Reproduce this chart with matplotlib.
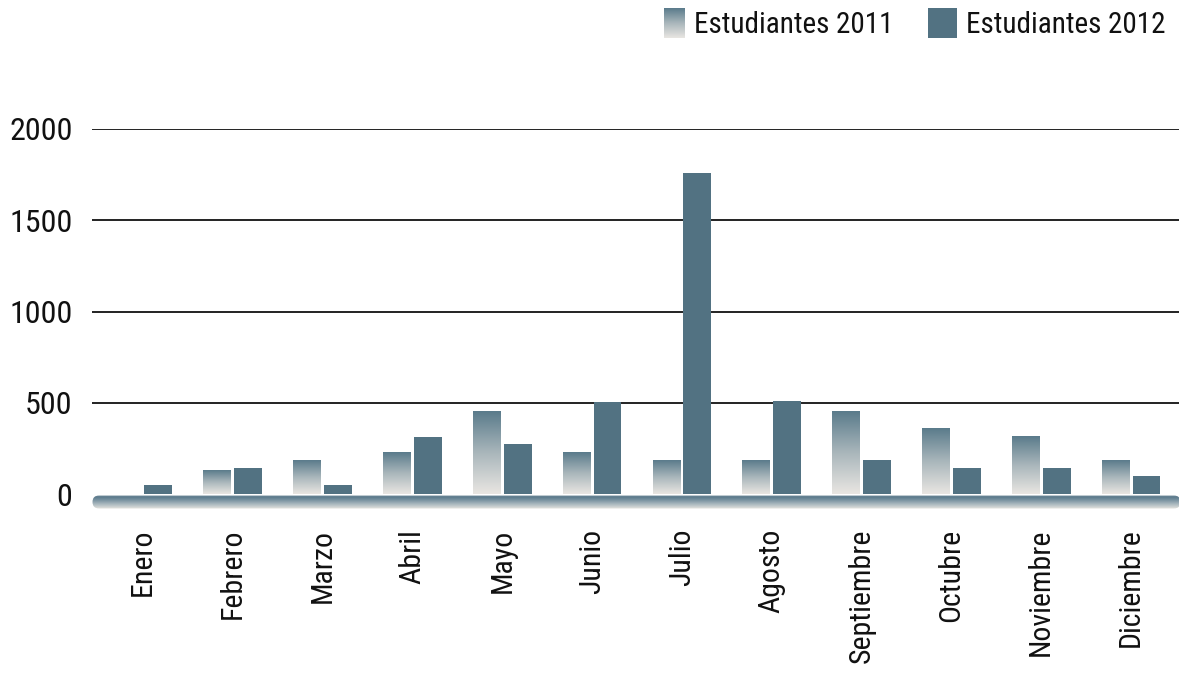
import numpy as np
import matplotlib
matplotlib.use("Agg")
import matplotlib.pyplot as plt
from matplotlib.colors import LinearSegmentedColormap
from matplotlib.patches import FancyBboxPatch, Rectangle

months = ["Enero", "Febrero", "Marzo", "Abril", "Mayo", "Junio", "Julio",
          "Agosto", "Septiembre", "Octubre", "Noviembre", "Diciembre"]
est_2011 = [0, 130, 185, 225, 450, 230, 185, 185, 450, 360, 315, 185]
est_2012 = [50, 140, 50, 315, 275, 505, 1760, 510, 185, 140, 140, 100]
yticks = [0, 500, 1000, 1500, 2000]
series_names = ["Estudiantes 2011", "Estudiantes 2012"]

FONT = ["Roboto Condensed", "Archivo Narrow", "DejaVu Sans"]
plt.rcParams["font.family"] = FONT

DARK = "#527282"
grad_cmap = LinearSegmentedColormap.from_list("g", ["#e9e6e2", "#a9b6bb", "#5a7b8b"])
base_cmap = LinearSegmentedColormap.from_list(
    "bb", [(0.0, "#e8e6e1"), (0.3, "#b3bfc4"), (0.65, "#7892a0"), (0.88, "#58788a"), (1.0, "#93a8b2")])
grad = np.linspace(0, 1, 256).reshape(-1, 1)

W, H = 1179, 675
fig = plt.figure(figsize=(W / 100, H / 100), dpi=100)

ax_left, ax_right = 92, 1179
y0_px, y2000_px = 494, 129
ax = fig.add_axes([ax_left / W, (H - y0_px) / H, (ax_right - ax_left) / W, (y0_px - y2000_px) / H])
n = len(months)
x = np.arange(n)
step_px = 89.8
bw = 0.31
off = 0.172
xlim = (-0.5 - 6 / step_px, n - 0.5 + 3 / step_px)

for s in ax.spines.values():
    s.set_visible(False)
ax.set_yticks(yticks)
ax.set_yticklabels([str(v) for v in yticks], fontsize=23, color="#111111")
ax.tick_params(axis="y", length=0, pad=14)
ax.yaxis.grid(True, color="#111111", linewidth=1.3)
ax.yaxis.get_gridlines()[0].set_visible(False)
ax.set_axisbelow(True)
ax.set_xticks(x)
ax.set_xticklabels(months, rotation=90, fontsize=21.5, color="#111111", va="top", ha="center")
ax.tick_params(axis="x", length=0, pad=25)

bars1 = ax.bar(x - off, est_2011, bw, facecolor="none", edgecolor="none", zorder=3)
for r in bars1:
    h = r.get_height()
    if h <= 0:
        continue
    ax.imshow(grad, extent=[r.get_x(), r.get_x() + r.get_width(), 0, h],
              origin="lower", aspect="auto", cmap=grad_cmap, zorder=3, interpolation="bilinear")
ax.bar(x + off, est_2012, bw, color=DARK, zorder=3)
ax.set_xlim(*xlim)
ax.set_ylim(0, 2000)

# rounded base floor
bx0, bx1, by_top, by_bot = 92, 1181, 495, 509
bax = fig.add_axes([bx0 / W, (H - by_bot) / H, (bx1 - bx0) / W, (by_bot - by_top) / H])
bax.set_xlim(0, bx1 - bx0)
bax.set_ylim(0, by_bot - by_top)
bax.axis("off")
im = bax.imshow(grad, extent=[0, bx1 - bx0, 0, by_bot - by_top], origin="lower",
                aspect="auto", cmap=base_cmap, interpolation="bilinear")
clip = FancyBboxPatch((0.5, 0.5), bx1 - bx0 - 1, by_bot - by_top - 1,
                      boxstyle="round,pad=0,rounding_size=6.5", transform=bax.transData,
                      facecolor="none", edgecolor="none")
bax.add_patch(clip)
im.set_clip_path(clip)

# legend
def fig_rect(px0, py0, px1, py1):
    return [px0 / W, (H - py1) / H, (px1 - px0) / W, (py1 - py0) / H]

lax = fig.add_axes(fig_rect(664, 8, 685, 38))
lax.axis("off")
lax.imshow(grad, extent=[0, 1, 0, 1], origin="lower", aspect="auto", cmap=grad_cmap, interpolation="bilinear")
fig.patches.append(Rectangle((928 / W, (H - 38) / H), 29 / W, 30 / H, transform=fig.transFigure,
                             facecolor=DARK, edgecolor="none"))
fig.text(694 / W, (H - 25) / H, series_names[0], fontsize=21, va="center", ha="left", color="#111111")
fig.text(966 / W, (H - 25) / H, series_names[1], fontsize=21, va="center", ha="left", color="#111111")

fig.savefig("out.png", dpi=100)
